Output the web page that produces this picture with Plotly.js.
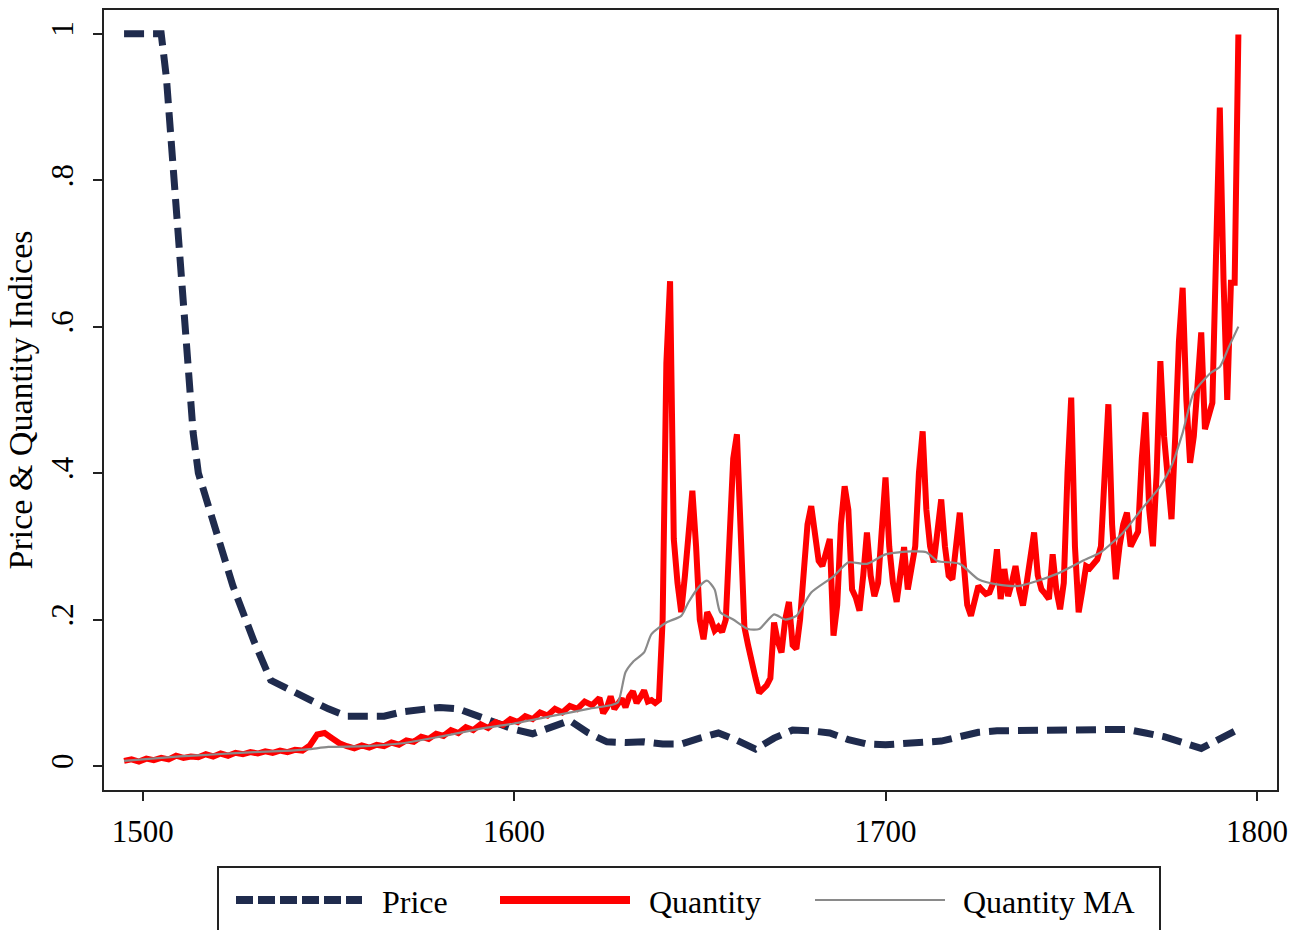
<!DOCTYPE html>
<html>
<head>
<meta charset="utf-8">
<script src="https://cdn.plot.ly/plotly-3.0.1.min.js"></script>
<style>html,body{margin:0;padding:0;background:#fff;}#chart{width:1292px;height:930px;}</style>
</head>
<body>
<div id="chart"></div>
<script>
// ---- Price index ----
const priceYears = [1495,1500,1505,1506.4,1509,1511.8,1513.6,1515,1519,1524.3,1530,1534.5,1540,1545,1550,1555,1560,1565,1570,1575,1580,1585,1590,1595,1600,1605,1610,1615,1620,1625,1630,1635,1640,1645,1650,1655,1660,1665,1670,1675,1680,1685,1690,1695,1700,1705,1710,1715,1720,1725,1730,1735,1740,1745,1750,1755,1760,1765,1770,1775,1780,1785,1790,1795];
const priceVals  = [1.0,1.0,1.0,0.94,0.77,0.56,0.455,0.40,0.337,0.246,0.17,0.117,0.103,0.09,0.078,0.068,0.067,0.068,0.074,0.078,0.080,0.078,0.068,0.058,0.050,0.044,0.052,0.062,0.045,0.033,0.032,0.033,0.030,0.030,0.038,0.045,0.035,0.023,0.038,0.049,0.048,0.045,0.036,0.030,0.029,0.030,0.032,0.034,0.040,0.046,0.048,0.048,0.049,0.049,0.048,0.048,0.050,0.050,0.045,0.040,0.032,0.024,0.037,0.050];

// ---- Quantity index ----
const qtyYears = [1495,1497,1499,1501,1503,1505,1507,1509,1511,1513,1515,1517,1519,1521,1523,1525,1527,1529,1531,1533,1535,1537,1539,1541,1543,1545,1547,1549,1551,1553,1555,1557,1559,1561,1563,1565,1567,1569,1571,1573,1575,1577,1579,1581,1583,1585,1587,1589,1591,1593,1595,1597,1599,1601,1603,1605,1607,1609,1611,1613,1615,1617,1619,1621,1623,1624,1625,1626,1627,1628,1629,1630,1631,1632,1633,1634,1635,1636,1637,1638,1639,1640,1641,1642,1643,1644,1645,1646,1647,1648,1649,1650,1651,1652,1653,1654,1655,1656,1657,1658,1659,1660,1661,1662,1663,1664,1665,1666,1667,1668,1669,1670,1671,1672,1673,1674,1675,1676,1677,1678,1679,1680,1681,1682,1683,1684,1685,1686,1687,1688,1689,1690,1691,1692,1693,1694,1695,1696,1697,1698,1699,1700,1701,1702,1703,1704,1705,1706,1707,1708,1709,1710,1711,1712,1713,1714,1715,1716,1717,1718,1719,1720,1721,1722,1723,1724,1725,1726,1727,1728,1729,1730,1731,1732,1733,1734,1735,1736,1737,1738,1739,1740,1741,1742,1743,1744,1745,1746,1747,1748,1749,1750,1751,1752,1753,1754,1755,1756,1757,1758,1759,1760,1761,1762,1763,1764,1765,1766,1767,1768,1769,1770,1771,1772,1773,1774,1775,1776,1777,1778,1779,1780,1781,1782,1783,1784,1785,1786,1787,1788,1789,1790,1791,1792,1793,1794,1795];
const qtyVals  = [0.007,0.009,0.006,0.010,0.008,0.011,0.009,0.014,0.011,0.013,0.012,0.016,0.013,0.017,0.014,0.018,0.016,0.019,0.017,0.020,0.018,0.021,0.019,0.022,0.021,0.028,0.043,0.045,0.038,0.031,0.027,0.024,0.028,0.025,0.029,0.027,0.032,0.029,0.035,0.033,0.040,0.037,0.044,0.041,0.049,0.045,0.053,0.049,0.057,0.052,0.060,0.056,0.064,0.060,0.068,0.064,0.073,0.069,0.078,0.073,0.082,0.078,0.088,0.083,0.093,0.072,0.080,0.095,0.078,0.085,0.092,0.080,0.095,0.102,0.086,0.094,0.103,0.088,0.090,0.086,0.090,0.200,0.550,0.662,0.310,0.250,0.210,0.260,0.330,0.376,0.300,0.200,0.173,0.210,0.200,0.185,0.190,0.183,0.200,0.320,0.420,0.453,0.300,0.190,0.165,0.146,0.120,0.100,0.105,0.110,0.120,0.196,0.170,0.155,0.200,0.224,0.165,0.160,0.200,0.280,0.330,0.355,0.320,0.280,0.273,0.290,0.310,0.178,0.220,0.330,0.382,0.350,0.241,0.230,0.212,0.260,0.319,0.260,0.232,0.250,0.330,0.394,0.300,0.250,0.224,0.260,0.299,0.241,0.270,0.300,0.400,0.457,0.350,0.300,0.278,0.320,0.364,0.300,0.260,0.255,0.300,0.346,0.280,0.220,0.205,0.225,0.246,0.240,0.235,0.237,0.250,0.296,0.228,0.269,0.232,0.250,0.273,0.240,0.219,0.250,0.290,0.319,0.260,0.241,0.235,0.228,0.289,0.240,0.214,0.250,0.400,0.503,0.300,0.210,0.240,0.273,0.270,0.275,0.282,0.300,0.400,0.494,0.330,0.255,0.300,0.330,0.346,0.300,0.310,0.320,0.420,0.483,0.350,0.300,0.400,0.553,0.450,0.380,0.337,0.450,0.580,0.653,0.500,0.414,0.450,0.520,0.592,0.460,0.480,0.496,0.700,0.899,0.664,0.500,0.660,0.660,0.999];

// ---- Quantity moving average ----
const maYears = [1495,1500,1510,1520,1530,1540,1545,1550,1560,1570,1580,1590,1600,1610,1620,1626,1628,1630,1632,1635,1637,1641,1645,1647,1650,1652,1654,1655.5,1659,1663,1666,1670,1673,1676,1680,1686,1690,1695,1700,1707,1711,1714,1720,1725,1730,1736,1746,1753,1758,1764,1769,1774,1777,1780,1783,1787.6,1790,1792.5,1795];
const maVals  = [0.007,0.009,0.013,0.016,0.019,0.021,0.023,0.026,0.027,0.031,0.040,0.050,0.058,0.068,0.078,0.083,0.087,0.128,0.142,0.155,0.180,0.196,0.205,0.224,0.246,0.253,0.241,0.210,0.200,0.187,0.187,0.207,0.200,0.205,0.237,0.259,0.278,0.276,0.289,0.293,0.292,0.280,0.276,0.255,0.248,0.246,0.262,0.280,0.292,0.319,0.351,0.382,0.410,0.455,0.510,0.537,0.545,0.573,0.600];

const yTickVals = [0, 0.2, 0.4, 0.6, 0.8, 1];
const yTickText = ['0', '.2', '.4', '.6', '.8', '1'];
const xTickVals = [1500, 1600, 1700, 1800];
const legendLabels = ['Price', 'Quantity', 'Quantity MA'];

const FONT = 'Liberation Serif, Times New Roman, serif';
const navy = '#1f2b4d', red = '#ff0000', gray = '#8a8a8a';

const traces = [
  {x: priceYears, y: priceVals, type: 'scatter', mode: 'lines', name: legendLabels[0],
   line: {color: navy, width: 7, dash: '20px,9px'}},
  {x: qtyYears, y: qtyVals, type: 'scatter', mode: 'lines', name: legendLabels[1],
   line: {color: red, width: 6}},
  {x: maYears, y: maVals, type: 'scatter', mode: 'lines', name: legendLabels[2],
   line: {color: gray, width: 2.2, shape: 'spline', smoothing: 0.6}}
];

// paper coordinate helpers (plot area: x 104..1277, y 10..790)
const px = v => (v - 104) / 1173;
const py = v => (790 - v) / 780;

const shapes = [
  {type: 'rect', xref: 'paper', yref: 'paper', x0: px(218), x1: px(1160), y0: py(940), y1: py(867),
   line: {color: '#222', width: 2}, fillcolor: 'rgba(0,0,0,0)'},
  {type: 'line', xref: 'paper', yref: 'paper', x0: px(236), x1: px(362), y0: py(900), y1: py(900),
   line: {color: navy, width: 8, dash: '17px,5px'}},
  {type: 'line', xref: 'paper', yref: 'paper', x0: px(500), x1: px(630), y0: py(900), y1: py(900),
   line: {color: red, width: 8}},
  {type: 'line', xref: 'paper', yref: 'paper', x0: px(815), x1: px(945), y0: py(900), y1: py(900),
   line: {color: gray, width: 2}}
];

const annotations = [
  {text: legendLabels[0], xref: 'paper', yref: 'paper', x: px(380), y: py(902), xanchor: 'left', yanchor: 'middle', showarrow: false, font: {family: FONT, size: 32, color: '#000'}},
  {text: legendLabels[1], xref: 'paper', yref: 'paper', x: px(647), y: py(902), xanchor: 'left', yanchor: 'middle', showarrow: false, font: {family: FONT, size: 32, color: '#000'}},
  {text: legendLabels[2], xref: 'paper', yref: 'paper', x: px(961), y: py(902), xanchor: 'left', yanchor: 'middle', showarrow: false, font: {family: FONT, size: 32, color: '#000'}}
];

const layout = {
  width: 1292, height: 930,
  margin: {l: 104, r: 15, t: 10, b: 140},
  paper_bgcolor: '#fff', plot_bgcolor: '#fff',
  showlegend: false,
  font: {family: FONT, color: '#000'},
  xaxis: {
    range: [1489.6, 1805.4], tickvals: xTickVals, ticks: 'outside', ticklen: 9, tickwidth: 2, tickcolor: '#222',
    showline: true, linecolor: '#222', linewidth: 2, mirror: true, showgrid: false, zeroline: false,
    tickfont: {family: FONT, size: 31, color: '#000'}, ticklabelstandoff: 4
  },
  yaxis: {
    range: [-0.0328, 1.0324], tickvals: yTickVals, ticktext: yTickText, tickangle: -90,
    ticks: 'outside', ticklen: 9, tickwidth: 2, tickcolor: '#222',
    showline: true, linecolor: '#222', linewidth: 2, mirror: true, showgrid: false, zeroline: false,
    tickfont: {family: FONT, size: 31, color: '#000'}, ticklabelstandoff: 8,
    title: {text: 'Price &amp; Quantity Indices', font: {family: FONT, size: 34, color: '#000'}, standoff: 2}
  },
  shapes: shapes,
  annotations: annotations
};

Plotly.newPlot('chart', traces, layout, {displayModeBar: false, staticPlot: true});
</script>
</body>
</html>
